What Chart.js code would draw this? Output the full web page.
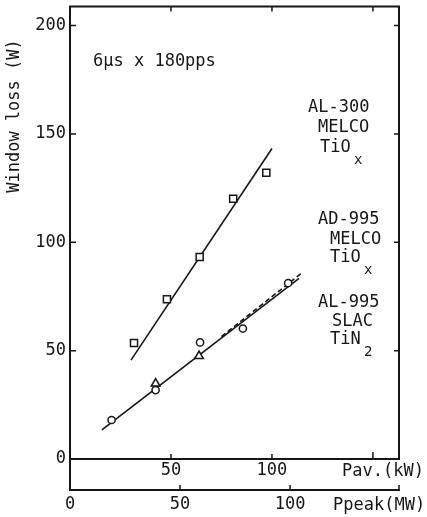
<!DOCTYPE html>
<html><head><meta charset="utf-8">
<script src="https://cdn.jsdelivr.net/npm/chart.js@4.4.1/dist/chart.umd.min.js"></script>
<style>html,body{margin:0;padding:0;background:#fff;}canvas{display:block;}</style>
</head><body>
<canvas id="c" width="427" height="517"></canvas>
<script>
// ---- data ----
const pavTicks = [50, 100, 150];
const pavTickLabels = ['50', '100', ''];
const ppeakTicks = [0, 50, 100];
const ppeakTickLabels = ['0', '50', '100'];
const lossTicks = [0, 50, 100, 150, 200];
const lossTickLabels = ['0', '50', '100', '150', '200'];

const al300Pav = [31.7, 48.0, 64.2, 80.8, 97.2];
const al300Loss = [53.5, 73.7, 93.2, 120.1, 132.1];
const ad995Pav = [20.6, 42.4, 64.4, 85.6, 108.0];
const ad995Loss = [18.0, 31.8, 53.8, 60.2, 81.2];
const al995Pav = [42.4, 63.9];
const al995Loss = [34.8, 47.5];

const al300FitPav = [30.2, 100.0];
const al300FitLoss = [45.6, 143.3];
const ad995FitPav = [15.8, 113.4];
const ad995FitLoss = [13.4, 83.4];
const al995FitPav = [75.0, 115.0];
const al995FitLoss = [56.5, 86.0];

const pavMax = 162.9;
const ppeakMax = 149.5;
const lossMax = 208.8;

const noteText = '6µs x 180pps';
const yTitle = 'Window loss (W)';
const pavTitle = 'Pav.(kW)';
const ppeakTitle = 'Ppeak(MW)';
const seriesNames = [
  ['AL-300', 'MELCO', 'TiO', 'x'],
  ['AD-995', 'MELCO', 'TiO', 'x'],
  ['AL-995', 'SLAC', 'TiN', '2']
];

// ---- drawing ----
const INK = '#161616';
const FONT = '"DejaVu Sans Mono", monospace';
const pts = (xs, ys) => xs.map((v, i) => ({x: v, y: ys[i]}));

const deco = {
  id: 'deco',
  afterDraw(chart) {
    const {ctx, chartArea: a, scales} = chart;
    const sx = scales.x, sx2 = scales.x2, sy = scales.y;
    ctx.save();
    ctx.strokeStyle = INK;
    ctx.lineWidth = 2;
    ctx.beginPath();
    ctx.moveTo(a.left - 1, a.top); ctx.lineTo(a.right, a.top); ctx.lineTo(a.right, a.bottom + 1);
    ctx.moveTo(a.left, a.bottom); ctx.lineTo(a.left, sx2.top);
    ctx.stroke();
    ctx.lineWidth = 1.5;
    ctx.beginPath();
    pavTicks.forEach(v => {
      const px = sx.getPixelForValue(v);
      const len = v === 150 ? 7 : 5;
      ctx.moveTo(px, a.bottom); ctx.lineTo(px, a.bottom - len);
      ctx.moveTo(px, a.top); ctx.lineTo(px, a.top + 5);
    });
    ppeakTicks.forEach(v => {
      if (v === 0) return;
      const px = sx2.getPixelForValue(v);
      ctx.moveTo(px, sx2.top); ctx.lineTo(px, sx2.top - 5);
    });
    ctx.moveTo(a.right, sx2.top); ctx.lineTo(a.right, sx2.top - 5);
    lossTicks.forEach(v => {
      if (v === 0) return;
      const py = sy.getPixelForValue(v);
      ctx.moveTo(a.left, py); ctx.lineTo(a.left + 6, py);
      ctx.moveTo(a.right, py); ctx.lineTo(a.right - 5, py);
    });
    ctx.stroke();

    ctx.fillStyle = INK;
    ctx.textBaseline = 'middle';
    ctx.textAlign = 'left';
    ctx.font = '17px ' + FONT;
    ctx.fillText(noteText, 93, 62);
    ctx.fillText(pavTitle, 342, 472);
    ctx.fillText(ppeakTitle, 333, 506);

    const blocks = [
      {x: [308, 318, 320], y: [108, 128, 148], sub: [354, 160]},
      {x: [318, 330, 330], y: [220, 240, 258], sub: [364, 270]},
      {x: [318, 332, 330], y: [303, 322, 340], sub: [364, 352]}
    ];
    blocks.forEach((b, i) => {
      const n = seriesNames[i];
      ctx.font = '17px ' + FONT;
      for (let k = 0; k < 3; k++) ctx.fillText(n[k], b.x[k], b.y[k]);
      ctx.font = '14px ' + FONT;
      ctx.fillText(n[3], b.sub[0], b.sub[1]);
    });

    ctx.font = '17px ' + FONT;
    ctx.translate(15, 116);
    ctx.rotate(-Math.PI / 2);
    ctx.textAlign = 'center';
    ctx.fillText(yTitle, 0, 0);
    ctx.restore();
  }
};

const tickFont = {family: FONT, size: 17};

new Chart(document.getElementById('c'), {
  type: 'scatter',
  data: {
    datasets: [
      {data: pts(al300Pav, al300Loss), pointStyle: 'rect', pointRadius: 5, borderColor: INK, backgroundColor: '#fff', borderWidth: 1.5},
      {data: pts(ad995Pav, ad995Loss), pointStyle: 'circle', pointRadius: 3.6, borderColor: INK, backgroundColor: '#fff', borderWidth: 1.5},
      {data: pts(al995Pav, al995Loss), pointStyle: 'triangle', pointRadius: 5, borderColor: INK, backgroundColor: '#fff', borderWidth: 1.5},
      {data: pts(al300FitPav, al300FitLoss), showLine: true, pointRadius: 0, borderColor: INK, borderWidth: 1.6},
      {data: pts(ad995FitPav, ad995FitLoss), showLine: true, pointRadius: 0, borderColor: INK, borderWidth: 1.6},
      {data: pts(al995FitPav, al995FitLoss), showLine: true, pointRadius: 0, borderColor: INK, borderWidth: 1.6, borderDash: [5, 3]}
    ]
  },
  options: {
    responsive: false,
    animation: false,
    devicePixelRatio: 1,
    layout: {padding: {top: 6, right: 28, left: 0, bottom: 0}},
    plugins: {legend: {display: false}, tooltip: {enabled: false}},
    scales: {
      x: {
        type: 'linear', position: 'bottom', min: 0, max: pavMax,
        afterBuildTicks: s => { s.ticks = pavTicks.map(v => ({value: v})); },
        afterFit: s => { s.height = 31; },
        grid: {display: false, drawTicks: false},
        border: {display: true, color: INK, width: 2},
        ticks: {padding: 1, color: INK, font: tickFont, maxRotation: 0, autoSkip: false,
          callback: v => pavTickLabels[pavTicks.indexOf(v)] ?? ''}
      },
      x2: {
        type: 'linear', position: 'bottom', min: 0, max: ppeakMax,
        afterBuildTicks: s => { s.ticks = ppeakTicks.map(v => ({value: v})); },
        afterFit: s => { s.height = 27; },
        grid: {display: false, drawTicks: false},
        border: {display: true, color: INK, width: 2},
        ticks: {padding: 4, color: INK, font: tickFont, maxRotation: 0, autoSkip: false,
          callback: v => ppeakTickLabels[ppeakTicks.indexOf(v)] ?? ''}
      },
      y: {
        type: 'linear', position: 'left', min: 0, max: lossMax,
        afterBuildTicks: s => { s.ticks = lossTicks.map(v => ({value: v})); },
        afterFit: s => { s.width = 70; s.paddingTop = 0; s.paddingBottom = 0; },
        grid: {display: false, drawTicks: false},
        border: {display: true, color: INK, width: 2},
        ticks: {padding: 4, color: INK, font: tickFont, autoSkip: false,
          callback: v => lossTickLabels[lossTicks.indexOf(v)] ?? ''}
      }
    }
  },
  plugins: [deco]
});
</script>
</body></html>
